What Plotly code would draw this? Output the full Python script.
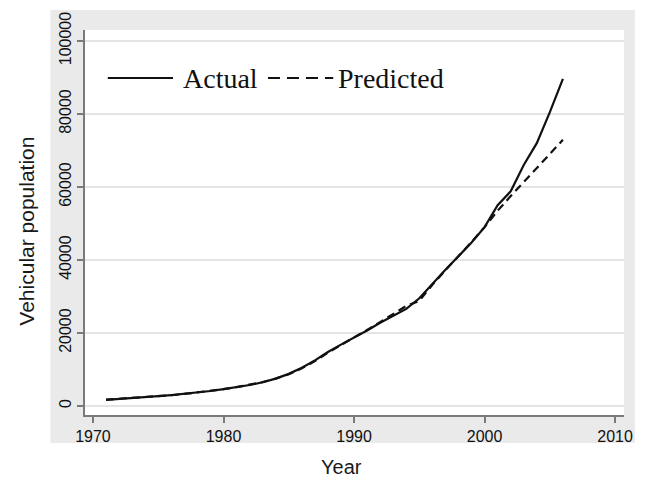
import plotly.graph_objects as go

years = list(range(1971, 2007))
actual = [1700, 1900, 2150, 2400, 2700, 3000, 3300, 3700, 4100, 4600,
          5100, 5750, 6500, 7500, 8800, 10500, 12500, 14800, 16800, 18700,
          20700, 22800, 24800, 26600, 29500, 33500, 37300, 41000, 44800, 49000,
          55000, 58800, 66000, 72000, 80500, 89600]
predicted = [1750, 1950, 2150, 2400, 2650, 2950, 3300, 3700, 4150, 4600,
             5150, 5800, 6550, 7500, 8700, 10300, 12300, 14600, 16800, 18800,
             20800, 23000, 25400, 27400, 28800, 33200, 37200, 41000, 44900, 49000,
             53500, 57500, 61300, 65200, 69000, 72900]
x_ticks = [1970, 1980, 1990, 2000, 2010]
y_ticks = [0, 20000, 40000, 60000, 80000, 100000]
legend_labels = ["Actual", "Predicted"]

W, H = 645, 484
L, R, T, B = 85, 15, 30, 69
pw, ph = W - L - R, H - T - B

def px(x):
    return (x - L) / pw

def py(y):
    return (H - B - y) / ph

fig = go.Figure()
fig.add_trace(go.Scatter(x=years, y=actual, mode="lines", name=legend_labels[0],
                         line=dict(color="#111111", width=2.2), showlegend=False))
fig.add_trace(go.Scatter(x=years, y=predicted, mode="lines", name=legend_labels[1],
                         line=dict(color="#111111", width=2.2, dash="8px,5px"), showlegend=False))

shapes = [
    dict(type="rect", xref="paper", yref="paper", x0=px(50), x1=px(641), y0=py(443), y1=py(10),
         fillcolor="#eaeaea", line=dict(width=0), layer="below"),
    dict(type="rect", xref="paper", yref="paper", x0=0, x1=1, y0=0, y1=1,
         fillcolor="#ffffff", line=dict(width=0), layer="below"),
    dict(type="line", xref="paper", yref="paper", x0=px(108), x1=px(174), y0=py(78), y1=py(78),
         line=dict(color="#111111", width=2.2)),
    dict(type="line", xref="paper", yref="paper", x0=px(270), x1=px(336), y0=py(78), y1=py(78),
         line=dict(color="#111111", width=2.2, dash="12px,7px")),
]

ann = [
    dict(text=legend_labels[0], xref="paper", yref="paper", x=px(182), y=py(78),
         xanchor="left", yanchor="middle", showarrow=False,
         font=dict(family="Liberation Serif", size=28, color="#111111")),
    dict(text=legend_labels[1], xref="paper", yref="paper", x=px(339), y=py(78),
         xanchor="left", yanchor="middle", showarrow=False,
         font=dict(family="Liberation Serif", size=28, color="#111111")),
    dict(text="Year", xref="paper", yref="paper", x=px(344), y=py(467),
         xanchor="center", yanchor="middle", showarrow=False,
         font=dict(family="Liberation Sans", size=20, color="#1a1a1a")),
    dict(text="Vehicular population", xref="paper", yref="paper", x=px(25), y=py(231),
         xanchor="center", yanchor="middle", showarrow=False, textangle=-90,
         font=dict(family="Liberation Sans", size=21, color="#1a1a1a")),
]

fig.update_layout(
    width=W, height=H,
    margin=dict(l=L, r=R, t=T, b=B),
    paper_bgcolor="#ffffff",
    plot_bgcolor="rgba(0,0,0,0)",
    shapes=shapes,
    annotations=ann,
    showlegend=False,
    xaxis=dict(range=[1969.39, 2010.68], tickvals=x_ticks, ticktext=[str(v) for v in x_ticks],
               showgrid=False, zeroline=False, showline=True, linecolor="#7a7a7a", linewidth=2,
               ticks="outside", ticklen=6, tickwidth=1.5, tickcolor="#7a7a7a",
               tickfont=dict(family="Liberation Sans", size=16, color="#111111")),
    yaxis=dict(range=[-2470, 103000], tickvals=y_ticks, ticktext=[str(v) for v in y_ticks],
               showgrid=True, gridcolor="#e4e4e4", gridwidth=1.5, zeroline=False,
               showline=True, linecolor="#7a7a7a", linewidth=2,
               ticks="outside", ticklen=6, tickwidth=1.5, tickcolor="#7a7a7a", tickangle=-90,
               tickfont=dict(family="Liberation Sans", size=16, color="#111111")),
)

fig.write_html("out.html")
